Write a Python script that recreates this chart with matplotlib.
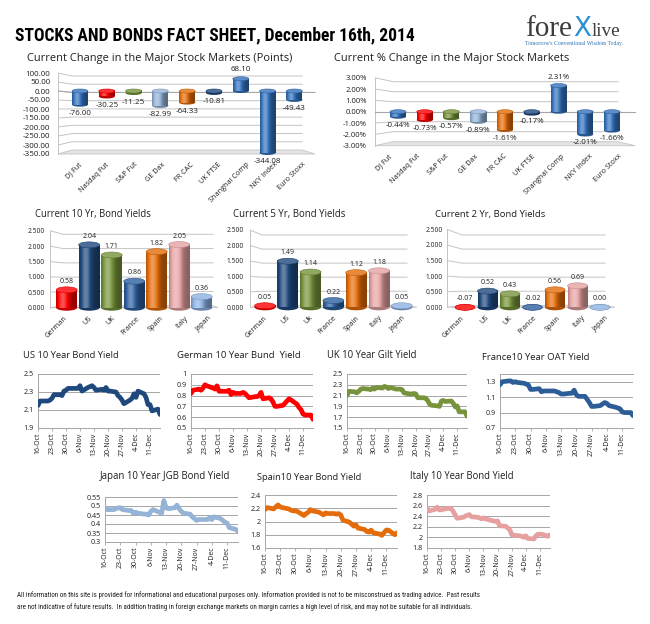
import numpy as np
import pandas as pd
import matplotlib
matplotlib.use("Agg")
import matplotlib.pyplot as plt
import matplotlib.colors as mcolors
from matplotlib.patches import Ellipse, Polygon
from matplotlib.ticker import FuncFormatter

# ---------------- data ----------------
stock_cats = ['DJ Fut', 'Nasdaq Fut', 'S&P Fut', 'GE Dax', 'FR CAC', 'UK FTSE',
              'Shanghai Comp', 'NKY Index', 'Euro Stoxx']
stock_pts = [-76.00, -30.25, -11.25, -82.99, -64.33, -10.81, 68.10, -344.08, -49.43]
stock_pct = [-0.44, -0.73, -0.57, -0.89, -1.61, -0.17, 2.31, -2.01, -1.66]
stock_colors = ['#3472bd', '#ff0000', '#77933c', '#95b3d7', '#e46c0a', '#1f497d',
                '#3472bd', '#3472bd', '#3472bd']
pts_ticks = [-350, -300, -250, -200, -150, -100, -50, 0, 50, 100]
pct_ticks = [-3, -2, -1, 0, 1, 2, 3]

bond_cats = ['German', 'US', 'UK', 'France', 'Spain', 'Italy', 'Japan']
bond_cats5 = ['German', 'US', 'Uk', 'France', 'Spain', 'Italy', 'Japan']
yld10 = [0.58, 2.04, 1.71, 0.86, 1.82, 2.05, 0.36]
yld5 = [0.05, 1.49, 1.14, 0.22, 1.12, 1.18, 0.05]
yld2 = [-0.07, 0.52, 0.43, -0.02, 0.56, 0.69, 0.00]
bond_colors = ['#ff0000', '#1f497d', '#77933c', '#2e5f9e', '#e46c0a', '#e6a3a3', '#8db3e2']
bond_ticks = [0.0, 0.5, 1.0, 1.5, 2.0, 2.5]

dates = pd.bdate_range('2014-10-16', '2014-12-16')
date_ticks = pd.date_range('2014-10-16', '2014-12-11', freq='7D')

us10 = [2.15, 2.20, 2.20, 2.20, 2.21, 2.23, 2.27, 2.27, 2.26, 2.31, 2.32, 2.34,
        2.34, 2.34, 2.34, 2.37, 2.31, 2.35, 2.36, 2.37, 2.35, 2.32,
        2.33, 2.32, 2.35, 2.31, 2.31, 2.30, 2.26, 2.24, 2.21, 2.17,
        2.21, 2.23, 2.28, 2.24, 2.31, 2.28, 2.24, 2.16, 2.16, 2.09, 2.11, 2.05]
de10 = [0.82, 0.85, 0.86, 0.85, 0.87, 0.90, 0.89, 0.87, 0.86, 0.89, 0.84, 0.84,
        0.84, 0.85, 0.81, 0.83, 0.82, 0.82, 0.83, 0.82, 0.80, 0.78,
        0.79, 0.79, 0.80, 0.83, 0.77, 0.78, 0.77, 0.74, 0.70, 0.70,
        0.71, 0.73, 0.75, 0.77, 0.76, 0.72, 0.69, 0.67, 0.63, 0.62, 0.62, 0.58]
uk10 = [2.10, 2.18, 2.17, 2.15, 2.18, 2.22, 2.23, 2.22, 2.21, 2.24, 2.22, 2.25,
        2.24, 2.27, 2.26, 2.23, 2.25, 2.22, 2.22, 2.22, 2.21, 2.15,
        2.13, 2.13, 2.14, 2.13, 2.06, 2.06, 2.05, 2.01, 1.94, 1.92,
        1.91, 1.90, 2.00, 2.01, 1.99, 2.00, 1.96, 1.89, 1.91, 1.80, 1.80, 1.72]
fr10 = [1.26, 1.30, 1.31, 1.31, 1.29, 1.30, 1.29, 1.28, 1.27, 1.26, 1.20, 1.20,
        1.21, 1.17, 1.18, 1.18, 1.18, 1.18, 1.17, 1.16, 1.14, 1.14,
        1.15, 1.15, 1.19, 1.13, 1.11, 1.11, 1.07, 1.03, 0.98, 0.98,
        0.99, 1.01, 1.03, 1.02, 0.99, 0.97, 0.96, 0.95, 0.91, 0.90, 0.90, 0.86]
jp10 = [0.49, 0.48, 0.48, 0.485, 0.49, 0.49, 0.48, 0.475, 0.475, 0.46, 0.465, 0.46,
        0.455, 0.455, 0.45, 0.47, 0.48, 0.465, 0.46, 0.53, 0.49, 0.485,
        0.49, 0.505, 0.485, 0.47, 0.46, 0.455, 0.44, 0.43, 0.42, 0.425,
        0.425, 0.425, 0.435, 0.425, 0.44, 0.43, 0.42, 0.41, 0.405, 0.38, 0.37, 0.36]
es10 = [2.18, 2.21, 2.19, 2.22, 2.25, 2.22, 2.21, 2.19, 2.17, 2.16, 2.16, 2.15,
        2.09, 2.12, 2.14, 2.18, 2.16, 2.14, 2.12, 2.10, 2.13, 2.12,
        2.12, 2.11, 2.12, 2.10, 2.02, 1.99, 1.96, 1.93, 1.95, 1.90,
        1.88, 1.85, 1.84, 1.87, 1.83, 1.81, 1.79, 1.83, 1.87, 1.87, 1.80, 1.83]
it10 = [2.55, 2.50, 2.53, 2.57, 2.52, 2.52, 2.53, 2.55, 2.54, 2.49, 2.42, 2.36,
        2.38, 2.40, 2.42, 2.43, 2.39, 2.38, 2.37, 2.35, 2.37, 2.35,
        2.32, 2.31, 2.30, 2.31, 2.22, 2.21, 2.18, 2.15, 2.05, 2.04,
        2.03, 2.02, 2.00, 2.03, 1.98, 1.97, 2.03, 2.06, 2.06, 2.06, 2.02, 2.05]

# ---------------- figure ----------------
W, H = 650, 624
plt.rcParams['font.family'] = ['Open Sans', 'DejaVu Sans']
fig = plt.figure(figsize=(6.5, 6.24), dpi=100)
fig.patch.set_facecolor('white')
renderer = fig.canvas.get_renderer()
TXT = '#1e1e1e'


def add_ax(l, t, r, b):
    return fig.add_axes([l / W, 1 - b / H, (r - l) / W, (b - t) / H])


def ftext(x, y, s, width=None, **kw):
    t = fig.text(x / W, 1 - y / H, s, **kw)
    if width:
        bb = t.get_window_extent(renderer=renderer)
        t.set_fontsize(t.get_fontsize() * width / bb.width)
    return t


def shade(c, f):
    rgb = np.array(mcolors.to_rgb(c))
    if f >= 0:
        out = rgb + (1 - rgb) * f
    else:
        out = rgb * (1 + f)
    return np.clip(out, 0, 1)


U = np.linspace(0, 1, 40)
GRAD = -0.4 + 0.72 * np.exp(-((U - 0.32) / 0.28) ** 2)


def cyl(ax, x, lo, hi, w, eh, color):
    ax.add_patch(Ellipse((x, lo), w, eh, facecolor=shade(color, -0.25),
                         edgecolor='none', zorder=3))
    if hi - lo > 1e-9:
        img = np.array([shade(color, f) for f in GRAD])[None, :, :]
        ax.imshow(img, extent=[x - w / 2, x + w / 2, lo, hi], aspect='auto',
                  interpolation='bilinear', zorder=3)
    ax.add_patch(Ellipse((x, hi), w, eh, facecolor=shade(color, 0.2),
                         edgecolor=shade(color, -0.15), lw=0.4, zorder=4))


def bar_panel(cats, vals, colors, ticks, tick_fmt, val_fmt, front_x, back_dx,
              right_back_x, right_front_x, ytop, ybot, dy_top, dy_bot, first_px,
              spacing, bar_w, eh_px, lab_first, lab_spacing, tick_pad, tick_fs,
              val_fs, cat_fs, val_off=6.5):
    ticks = np.asarray(ticks, float)
    t_hi, t_lo = ticks.max(), ticks.min()
    upp = (t_hi - t_lo) / (ybot - ytop)
    px2x = lambda p: (p - first_px) / spacing
    px2y = lambda p: t_hi - (p - ytop) * upp
    y2px = lambda v: ytop + (t_hi - v) / upp

    def back(v):
        p = y2px(v)
        fr = (p - ytop) / (ybot - ytop)
        return px2y(p + dy_top + (dy_bot - dy_top) * fr)

    l, r, t, b = front_x, right_front_x + 3, ytop - 10, ybot + 5
    ax = add_ax(l, t, r, b)
    ax.set_facecolor('none')
    x0, xb = px2x(front_x), px2x(front_x + back_dx)
    xr, xf = px2x(right_back_x), px2x(right_front_x)
    fb = back(t_lo)
    ax.add_patch(Polygon([(x0, t_lo), (xb, fb), (xr, fb), (xf, t_lo)], closed=True,
                         facecolor='#e4e4e4', edgecolor='#c4c4c4', lw=0.6, zorder=1))
    for tk in ticks[1:]:
        bt = back(tk)
        ax.plot([x0, xb, xr], [tk, bt, bt], color='#c4c4c4', lw=0.7, zorder=1)
    ax.plot([x0, x0], [t_lo, t_hi], color='#c4c4c4', lw=0.7, zorder=1)
    if t_lo < 0:
        b0 = back(0)
        ax.plot([x0, xb, xf], [0, b0, b0], color='#a6a6a6', lw=0.8, zorder=2)
    w = bar_w / spacing
    eh = eh_px * upp
    for i, (v, c) in enumerate(zip(vals, colors)):
        lo = max(min(0.0, v), t_lo)
        hi = max(max(0.0, v), t_lo)
        cyl(ax, i, lo, hi, w, eh, c)
        if v < 0 and t_lo < 0:
            ax.annotate(val_fmt(v), (i, lo), xytext=(0, -val_off),
                        textcoords='offset points', ha='center', va='center',
                        fontsize=val_fs, color=TXT, zorder=6)
        else:
            ax.annotate(val_fmt(v), (i, hi), xytext=(0, val_off),
                        textcoords='offset points', ha='center', va='center',
                        fontsize=val_fs, color=TXT, zorder=6)
    ax.set_xlim(px2x(l), px2x(r))
    ax.set_ylim(px2y(b), px2y(t))
    ax.set_yticks(ticks, [tick_fmt(v) for v in ticks])
    labpos = [px2x(lab_first + k * lab_spacing) for k in range(len(cats))]
    ax.set_xticks(labpos, cats, rotation=45, ha='right', rotation_mode='anchor')
    ax.tick_params(axis='y', length=0, pad=tick_pad, labelsize=tick_fs, labelcolor=TXT)
    ax.tick_params(axis='x', length=0, pad=1.5, labelsize=cat_fs, labelcolor=TXT)
    for s in ax.spines.values():
        s.set_visible(False)
    return ax


def line_panel(l, t, r, b, vals, color, yticks, ylim, top_spine=False):
    ax = add_ax(l, t, r, b)
    ax.plot(dates, vals, color=color, lw=3.4, solid_joinstyle='round',
            solid_capstyle='round', zorder=3)
    ax.set_xlim(dates[0], dates[-1])
    ax.set_ylim(*ylim)
    ax.set_yticks(yticks)
    ax.yaxis.set_major_formatter(FuncFormatter(lambda v, p: f"{v:g}"))
    ax.grid(axis='y', color='#a6a6a6', lw=0.7)
    ax.set_axisbelow(True)
    ax.set_xticks(date_ticks, [f"{d.day}-{d.strftime('%b')}" for d in date_ticks],
                  rotation=90)
    ax.tick_params(axis='x', length=2, width=0.6, color='#a6a6a6', labelsize=5.0,
                   pad=1.5, labelcolor=TXT)
    ax.tick_params(axis='y', length=0, labelsize=5.2, pad=3, labelcolor=TXT)
    for k in ['left', 'bottom']:
        ax.spines[k].set_color('#a6a6a6')
        ax.spines[k].set_linewidth(0.7)
    ax.spines['right'].set_visible(False)
    if top_spine:
        ax.spines['top'].set_color('#a6a6a6')
        ax.spines['top'].set_linewidth(0.7)
    else:
        ax.spines['top'].set_visible(False)
    return ax


# ---------------- header ----------------
ftext(15, 35, 'STOCKS AND BONDS FACT SHEET, December 16th, 2014', width=402,
      family=['Roboto Condensed', 'DejaVu Sans Condensed', 'Roboto'], weight='bold',
      fontsize=15, va='center', ha='left', color='black')
ftext(525, 36, 'fore', width=47, family='Liberation Serif', fontsize=17,
      color='#3d3d3d', va='baseline', ha='left')
ftext(573, 36, 'X', width=18, family='DejaVu Sans', fontsize=15,
      color='#2b8fd6', va='baseline', ha='left')
ftext(592, 36, 'live', width=29, family='Liberation Serif', fontsize=17,
      color='#3d3d3d', va='baseline', ha='left')
ftext(525, 43, "Tomorrow's Conventional Wisdom Today.", width=97,
      family='Liberation Serif', fontsize=4, color='#2e75b6', va='center', ha='left')

# ---------------- stock bar charts ----------------
ftext(27, 59, 'Current Change in the Major Stock Markets (Points)', width=265,
      fontsize=8, va='center', ha='left', color=TXT)
bar_panel(stock_cats, stock_pts, stock_colors, pts_ticks, lambda v: f"{v:.2f}",
          lambda v: f"{v:.2f}", front_x=58, back_dx=14, right_back_x=302,
          right_front_x=315, ytop=73, ybot=154, dy_top=3, dy_bot=-4, first_px=80,
          spacing=26.8, bar_w=16, eh_px=4, lab_first=78, lab_spacing=28,
          tick_pad=5.5, tick_fs=5.8, val_fs=5.8, cat_fs=5.2, val_off=6.5)

ftext(334, 58, 'Current % Change in the Major Stock Markets', width=233,
      fontsize=8, va='center', ha='left', color=TXT)
bar_panel(stock_cats, stock_pct, stock_colors, pct_ticks, lambda v: f"{v:.2f}%",
          lambda v: f"{v:.2f}%", front_x=375, back_dx=18, right_back_x=618,
          right_front_x=635, ytop=77.7, ybot=145.7, dy_top=4, dy_bot=-4, first_px=398,
          spacing=26.75, bar_w=16, eh_px=4, lab_first=388, lab_spacing=28.75,
          tick_pad=6, tick_fs=5.5, val_fs=5.7, cat_fs=5.2, val_off=6)

# ---------------- bond bar charts ----------------
ftext(35, 215, 'Current 10 Yr, Bond Yields', width=117, fontsize=7,
      va='center', ha='left', color=TXT)
bar_panel(bond_cats, yld10, bond_colors, bond_ticks, lambda v: f"{v:.3f}",
          lambda v: f"{v:.2f}", front_x=50, back_dx=13, right_back_x=213,
          right_front_x=218, ytop=230.7, ybot=307.7, dy_top=3.6, dy_bot=-2,
          first_px=66.7, spacing=22.5, bar_w=21, eh_px=6, lab_first=64,
          lab_spacing=24, tick_pad=4, tick_fs=4.8, val_fs=5.0, cat_fs=5.2, val_off=6)

ftext(233, 215, 'Current 5 Yr, Bond Yields', width=113, fontsize=7,
      va='center', ha='left', color=TXT)
bar_panel(bond_cats5, yld5, bond_colors, bond_ticks, lambda v: f"{v:.3f}",
          lambda v: f"{v:.2f}", front_x=250, back_dx=12, right_back_x=407,
          right_front_x=417, ytop=230, ybot=307.3, dy_top=5, dy_bot=-2,
          first_px=265, spacing=22.8, bar_w=21, eh_px=6, lab_first=263.7,
          lab_spacing=23, tick_pad=4.5, tick_fs=4.8, val_fs=5.0, cat_fs=5.2, val_off=6)

ftext(435, 215, 'Current 2 Yr, Bond Yields', width=111, fontsize=7,
      va='center', ha='left', color=TXT)
bar_panel(bond_cats, yld2, bond_colors, bond_ticks, lambda v: f"{v:.3f}",
          lambda v: f"{v:.2f}", front_x=447, back_dx=15, right_back_x=605,
          right_front_x=615, ytop=229.3, ybot=307.3, dy_top=5.7, dy_bot=-2,
          first_px=465, spacing=22.5, bar_w=20, eh_px=6, lab_first=461,
          lab_spacing=24, tick_pad=3, tick_fs=4.8, val_fs=5.0, cat_fs=5.2, val_off=6)

# ---------------- line charts ----------------
ftext(22.7, 356, 'US 10 Year Bond Yield', width=97, fontsize=7, va='center', ha='left', color=TXT)
line_panel(38, 374, 160, 428, us10, '#1f497d', [1.9, 2.1, 2.3, 2.5], (1.9, 2.5))

ftext(176.7, 356, 'German 10 Year Bund  Yield', width=125, fontsize=7, va='center', ha='left', color=TXT)
line_panel(191, 374, 313, 428, de10, '#ff0000', [0.5, 0.6, 0.7, 0.8, 0.9, 1.0], (0.5, 1.0))

ftext(327, 356, 'UK 10 Year Gilt Yield', width=91, fontsize=7, va='center', ha='left', color=TXT)
line_panel(347, 374, 467, 428, uk10, '#77933c', [1.5, 1.7, 1.9, 2.1, 2.3, 2.5], (1.5, 2.5))

ftext(481.7, 357, 'France10 Year OAT Yield', width=108, fontsize=7, va='center', ha='left', color=TXT)
line_panel(500, 374, 633, 428, fr10, '#2c5d96', [0.7, 0.9, 1.1, 1.3], (0.7, 1.4), top_spine=True)

ftext(100, 477, 'Japan 10 Year JGB Bond Yield', width=131, fontsize=7, va='center', ha='left', color=TXT)
line_panel(105, 497, 238, 542, jp10, '#95b3d7', [0.3, 0.35, 0.4, 0.45, 0.5, 0.55], (0.3, 0.55))

ftext(257, 477, 'Spain10 Year Bond Yield', width=106, fontsize=7, va='center', ha='left', color=TXT)
line_panel(265, 495, 397, 548, es10, '#e46c0a', [1.6, 1.8, 2.0, 2.2, 2.4], (1.6, 2.4))

ftext(410, 477, 'Italy 10 Year Bond Yield', width=105, fontsize=7, va='center', ha='left', color=TXT)
line_panel(427, 495, 550, 548, it10, '#e6a0a0', [1.8, 2.0, 2.2, 2.4, 2.6, 2.8], (1.8, 2.8))

# ---------------- footer ----------------
FOOT = ['Roboto Condensed', 'Open Sans']
ftext(17, 595.5, 'All information on this site is provided for informational and educational '
      'purposes only. Information provided is not to be misconstrued as trading advice.  Past results',
      width=471, family=FOOT, fontsize=5, va='center', ha='left', color=TXT)
ftext(17, 607.5, 'are not indicative of future results.  In addition trading in foreign exchange '
      'markets on margin carries a high level of risk, and may not be suitable for all individuals.',
      width=461, family=FOOT, fontsize=5, va='center', ha='left', color=TXT)

fig.savefig('out.png', dpi=100, facecolor='white')
